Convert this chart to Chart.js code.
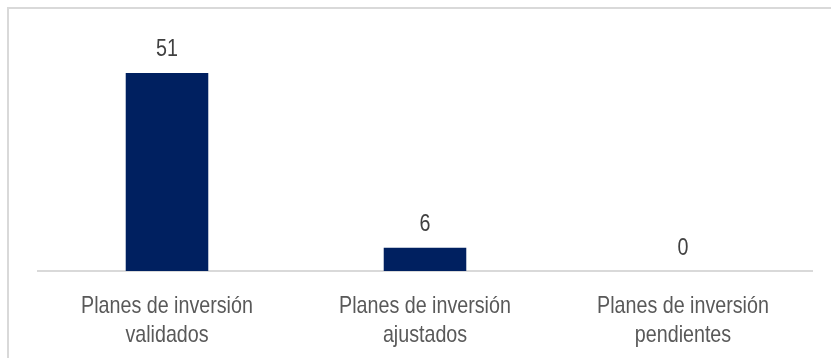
<!DOCTYPE html>
<html>
<head>
<meta charset="utf-8">
<script src="https://cdn.jsdelivr.net/npm/chart.js@4.4.0/dist/chart.umd.min.js"></script>
<style>
  body { margin: 0; background: #fff; }
  #wrap { position: relative; width: 831px; height: 358px; overflow: hidden; }
  #frame { position: absolute; left: 7px; top: 7px; right: 0; bottom: 0; border-top: 2px solid #d9d9d9; border-left: 2px solid #d9d9d9; }
  canvas { position: absolute; left: 0; top: 0; }
</style>
</head>
<body>
<div id="wrap">
  <div id="frame"></div>
  <canvas id="grafico" width="831" height="358"></canvas>
</div>
<script>
var categorias = [
  ["Planes de inversión", "validados"],
  ["Planes de inversión", "ajustados"],
  ["Planes de inversión", "pendientes"]
];
var valores = [51, 6, 0];

var fuente = "'Liberation Sans', Arial, sans-serif";
var estrecho = 0.82; // imita Arial Narrow, que no esta instalada

function textoEstrecho(ctx, txt, x, y) {
  ctx.save();
  ctx.translate(x, y);
  ctx.scale(estrecho, 1);
  ctx.fillText(txt, 0, 0);
  ctx.restore();
}

// etiquetas de valor y de categoria, en letra estrecha
var etiquetas = {
  id: "etiquetas",
  afterDatasetsDraw: function (chart) {
    var ctx = chart.ctx;
    var meta = chart.getDatasetMeta(0);
    var ejeX = chart.scales.x;
    ctx.save();
    ctx.font = "24px " + fuente;
    ctx.textAlign = "center";
    ctx.textBaseline = "alphabetic";
    ctx.fillStyle = "#404040";
    meta.data.forEach(function (bar, i) {
      textoEstrecho(ctx, String(valores[i]), bar.x, bar.y - 16.5);
    });
    ctx.fillStyle = "#595959";
    chart.data.labels.forEach(function (lineas, i) {
      var x = ejeX.getPixelForTick(i);
      lineas.forEach(function (l, j) {
        textoEstrecho(ctx, l, x, ejeX.top + 42 + j * 28.5);
      });
    });
    ctx.restore();
  }
};

new Chart(document.getElementById("grafico"), {
  type: "bar",
  data: {
    labels: categorias,
    datasets: [
      {
        data: valores,
        backgroundColor: "#002060",
        categoryPercentage: 1,
        barPercentage: 0.32
      }
    ]
  },
  options: {
    responsive: false,
    animation: false,
    layout: { padding: { left: 38, right: 19, top: 38, bottom: 0 } },
    plugins: {
      legend: { display: false },
      tooltip: { enabled: false }
    },
    scales: {
      x: {
        grid: { display: false },
        border: { display: true, color: "#d9d9d9", width: 2 },
        ticks: { display: false },
        afterFit: function (scale) { scale.height = 87; }
      },
      y: {
        display: false,
        min: 0,
        max: 60
      }
    }
  },
  plugins: [etiquetas]
});
</script>
</body>
</html>
